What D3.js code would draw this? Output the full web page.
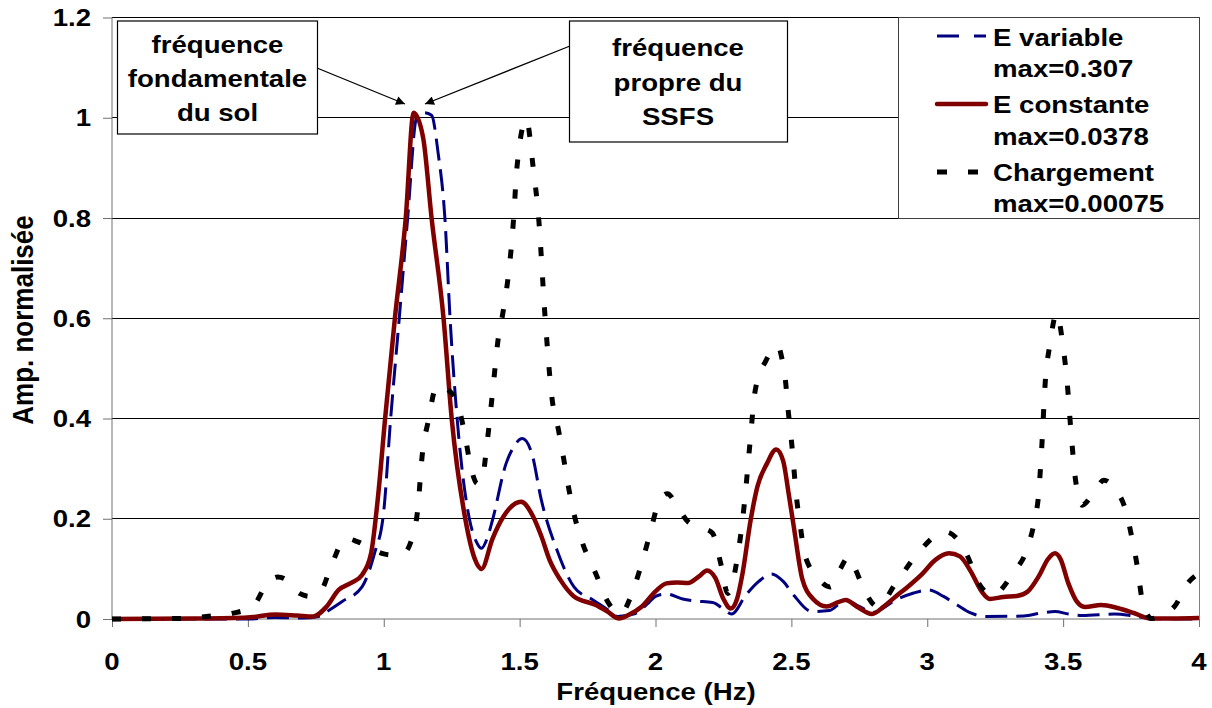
<!DOCTYPE html>
<html>
<head>
<meta charset="utf-8">
<script src="https://cdn.jsdelivr.net/npm/d3@7"></script>
<style>
  body { margin: 0; background: #fff; }
  text { font-family: "Liberation Sans", Arial, sans-serif; font-weight: bold; fill: #000; }
</style>
</head>
<body>
<div id="chart"></div>
<script>
// ---------------------------------------------------------------------------
// Data: [frequency Hz, normalised amplitude]

const freqTicks = [0, 0.5, 1, 1.5, 2, 2.5, 3, 3.5, 4];
const ampTicks = [0, 0.2, 0.4, 0.6, 0.8, 1, 1.2];

const eVariable = [
  [0, 0], [0.5, 0], [0.6, 0.003], [0.7, 0.002], [0.76, 0.005], [0.8, 0.018],
  [0.847, 0.035], [0.92, 0.064], [0.966, 0.131], [0.999, 0.21], [1.025, 0.397],
  [1.057, 0.6], [1.088, 0.8], [1.121, 1.0], [1.15, 1.01], [1.176, 1.005],
  [1.2, 0.93], [1.225, 0.8], [1.244, 0.6], [1.27, 0.4], [1.315, 0.2],
  [1.34, 0.155], [1.36, 0.141], [1.38, 0.16], [1.4, 0.197], [1.45, 0.31],
  [1.48, 0.345], [1.51, 0.36], [1.545, 0.33], [1.58, 0.237], [1.637, 0.138],
  [1.7, 0.064], [1.77, 0.038], [1.82, 0.02], [1.86, 0.005], [1.926, 0.011],
  [1.97, 0.03], [2.0, 0.045], [2.04, 0.05], [2.1, 0.04], [2.145, 0.036],
  [2.21, 0.033], [2.25, 0.02], [2.28, 0.01], [2.333, 0.048], [2.38, 0.075],
  [2.427, 0.09], [2.47, 0.075], [2.508, 0.048], [2.575, 0.015], [2.64, 0.017],
  [2.7, 0.038], [2.75, 0.025], [2.8, 0.013], [2.884, 0.038], [2.95, 0.052],
  [3.005, 0.058], [3.06, 0.045], [3.11, 0.028], [3.16, 0.012], [3.22, 0.005],
  [3.355, 0.006], [3.42, 0.012], [3.47, 0.015], [3.52, 0.01], [3.57, 0.007],
  [3.69, 0.01], [3.76, 0.006], [3.825, 0.001], [4.0, 0]
];

const eConstante = [
  [0, 0], [0.3, 0.001], [0.45, 0.002], [0.52, 0.004], [0.6, 0.009], [0.68, 0.007],
  [0.74, 0.005], [0.79, 0.025], [0.834, 0.058], [0.88, 0.072], [0.92, 0.088],
  [0.953, 0.13], [0.98, 0.25], [1.005, 0.4], [1.041, 0.6], [1.081, 0.8],
  [1.11, 1.01], [1.145, 0.96], [1.176, 0.8], [1.22, 0.6], [1.25, 0.4],
  [1.3, 0.2], [1.335, 0.12], [1.36, 0.1], [1.4, 0.16], [1.44, 0.204],
  [1.505, 0.234], [1.55, 0.204], [1.58, 0.165], [1.61, 0.118], [1.65, 0.078],
  [1.7, 0.045], [1.78, 0.028], [1.82, 0.016], [1.867, 0.001], [1.9, 0.008],
  [1.95, 0.025], [2.0, 0.055], [2.04, 0.071], [2.08, 0.073], [2.12, 0.072],
  [2.16, 0.085], [2.19, 0.097], [2.22, 0.082], [2.25, 0.04], [2.277, 0.021],
  [2.3, 0.04], [2.32, 0.09], [2.35, 0.197], [2.375, 0.264], [2.41, 0.31],
  [2.444, 0.338], [2.47, 0.315], [2.49, 0.25], [2.51, 0.18], [2.54, 0.08],
  [2.58, 0.04], [2.63, 0.025], [2.67, 0.033], [2.7, 0.038], [2.74, 0.025],
  [2.797, 0.01], [2.84, 0.025], [2.884, 0.045], [2.93, 0.065], [2.978, 0.088],
  [3.03, 0.118], [3.08, 0.131], [3.12, 0.125], [3.16, 0.095], [3.2, 0.055],
  [3.23, 0.04], [3.28, 0.044], [3.33, 0.046], [3.37, 0.055], [3.41, 0.085],
  [3.445, 0.12], [3.47, 0.131], [3.49, 0.12], [3.52, 0.07], [3.55, 0.035],
  [3.58, 0.024], [3.64, 0.028], [3.7, 0.022], [3.76, 0.012], [3.82, 0.001],
  [3.9, 0.001], [4.0, 0.002]
];

const chargement = [
  [0, 0], [0.25, 0.001], [0.347, 0.005], [0.44, 0.011], [0.518, 0.025],
  [0.571, 0.071], [0.61, 0.084], [0.65, 0.075], [0.69, 0.051], [0.73, 0.045],
  [0.768, 0.055], [0.808, 0.108], [0.86, 0.161], [0.9, 0.155], [0.953, 0.141],
  [1.0, 0.13], [1.03, 0.128], [1.07, 0.13], [1.1, 0.154], [1.124, 0.214],
  [1.143, 0.334], [1.163, 0.393], [1.196, 0.466], [1.23, 0.46], [1.275, 0.423],
  [1.3, 0.363], [1.32, 0.304], [1.345, 0.27], [1.36, 0.274], [1.38, 0.35],
  [1.4, 0.45], [1.424, 0.57], [1.435, 0.6], [1.478, 0.8], [1.49, 0.9],
  [1.525, 0.997], [1.55, 0.9], [1.57, 0.8], [1.594, 0.6], [1.62, 0.437],
  [1.643, 0.377], [1.663, 0.317], [1.682, 0.257], [1.7, 0.21], [1.728, 0.157],
  [1.78, 0.091], [1.828, 0.031], [1.87, 0.011], [1.926, 0.071], [1.953, 0.118],
  [1.98, 0.171], [2.01, 0.23], [2.044, 0.25], [2.08, 0.225], [2.12, 0.194],
  [2.145, 0.187], [2.18, 0.18], [2.21, 0.171], [2.24, 0.111], [2.266, 0.051],
  [2.3, 0.118], [2.327, 0.23], [2.347, 0.347], [2.367, 0.456], [2.407, 0.516],
  [2.435, 0.54], [2.45, 0.545], [2.465, 0.52], [2.478, 0.477], [2.488, 0.417],
  [2.5, 0.357], [2.52, 0.237], [2.535, 0.177], [2.548, 0.131], [2.595, 0.084],
  [2.643, 0.064], [2.68, 0.1], [2.71, 0.124], [2.735, 0.1], [2.763, 0.064],
  [2.817, 0.025], [2.884, 0.071], [2.965, 0.131], [3.066, 0.174], [3.11, 0.16],
  [3.146, 0.128], [3.19, 0.071], [3.24, 0.048], [3.315, 0.091], [3.37, 0.144],
  [3.395, 0.197], [3.41, 0.25], [3.42, 0.33], [3.436, 0.486], [3.45, 0.543],
  [3.476, 0.61], [3.5, 0.543], [3.513, 0.483], [3.53, 0.367], [3.545, 0.28],
  [3.556, 0.247], [3.57, 0.227], [3.61, 0.25], [3.65, 0.277], [3.69, 0.26],
  [3.73, 0.217], [3.755, 0.157], [3.775, 0.098], [3.79, 0.041], [3.825, 0.001],
  [3.87, 0.01], [3.91, 0.025], [3.958, 0.071], [4.0, 0.091]
];

const legendLabels = [
  ['E variable', 'max=0.307'],
  ['E constante', 'max=0.0378'],
  ['Chargement', 'max=0.00075']
];

// ---------------------------------------------------------------------------
// Layout

const width = 1212;
const height = 708;
const SX = 1.15; // the source picture is stretched horizontally

const svg = d3.select('#chart')
  .append('svg')
  .attr('width', width)
  .attr('height', height);

svg.append('rect').attr('width', width).attr('height', height).attr('fill', '#fff');

const x = d3.scaleLinear().domain([0, 4]).range([112, 1199]);
const y = d3.scaleLinear().domain([0, 1.2]).range([619, 17.5]);

function label(sel, tx, ty, txt, anchor, size) {
  return sel.append('text')
    .attr('transform', `translate(${tx},${ty}) scale(${SX},1)`)
    .attr('text-anchor', anchor)
    .attr('font-size', size)
    .text(txt);
}

// gridlines
svg.append('g')
  .selectAll('line')
  .data(ampTicks.filter(d => d > 0))
  .enter()
  .append('line')
  .attr('x1', x(0)).attr('x2', x(4))
  .attr('y1', d => y(d)).attr('y2', d => y(d))
  .attr('stroke', '#000')
  .attr('stroke-width', 1)
  .attr('shape-rendering', 'crispEdges');

// right border of plot area
svg.append('line')
  .attr('x1', x(4)).attr('x2', x(4))
  .attr('y1', y(1.2)).attr('y2', y(0))
  .attr('stroke', '#808080')
  .attr('shape-rendering', 'crispEdges');

// axes
const yAxis = d3.axisLeft(y).tickValues(ampTicks).tickSize(9).tickFormat('');
const xAxis = d3.axisBottom(x).tickValues(freqTicks).tickSize(8).tickFormat('');

svg.append('g').attr('transform', `translate(${x(0)},0)`).call(yAxis)
  .call(g => g.selectAll('path, line').attr('stroke', '#707070'))
  .call(g => g.select('.domain').attr('d', `M0,${y(1.2)}V${y(0)}`));
svg.append('g').attr('transform', `translate(0,${y(0)})`).call(xAxis)
  .call(g => g.selectAll('path, line').attr('stroke', '#707070'))
  .call(g => g.select('.domain').attr('d', `M${x(0)},0H${x(4)}`));

const yLabels = svg.append('g');
ampTicks.forEach(d => {
  label(yLabels, 91, y(d) + 8.6, d3.format('~g')(d), 'end', 24);
});
const xLabels = svg.append('g');
freqTicks.forEach(d => {
  label(xLabels, x(d), 669.6, d3.format('~g')(d), 'middle', 24);
});

label(svg, 656, 700, 'Fréquence (Hz)', 'middle', 24);
svg.append('text')
  .attr('transform', 'translate(33,320) rotate(-90) scale(1,1.12)')
  .attr('text-anchor', 'middle')
  .attr('font-size', 26)
  .text('Amp. normalisée');

// ---------------------------------------------------------------------------
// Series

const line = d3.line()
  .x(d => x(d[0]))
  .y(d => y(d[1]))
  .curve(d3.curveMonotoneX);

const plot = svg.append('g');

plot.append('path')
  .datum(eVariable)
  .attr('d', line)
  .attr('fill', 'none')
  .attr('stroke', '#000080')
  .attr('stroke-width', 3)
  .attr('stroke-dasharray', '22,9');

plot.append('path')
  .datum(eConstante)
  .attr('d', line)
  .attr('fill', 'none')
  .attr('stroke', '#800000')
  .attr('stroke-width', 4.5)
  .attr('stroke-linejoin', 'round');

plot.append('path')
  .datum(chargement)
  .attr('d', line)
  .attr('fill', 'none')
  .attr('stroke', '#000')
  .attr('stroke-width', 5)
  .attr('stroke-dasharray', '9,21');

// ---------------------------------------------------------------------------
// Annotations

svg.append('defs').append('marker')
  .attr('id', 'arrow')
  .attr('viewBox', '0 0 10 10')
  .attr('refX', 10).attr('refY', 5)
  .attr('markerWidth', 11).attr('markerHeight', 9)
  .attr('markerUnits', 'userSpaceOnUse')
  .attr('orient', 'auto')
  .append('path')
  .attr('d', 'M0,0L10,5L0,10Z')
  .attr('fill', '#000');

const ann = svg.append('g');

ann.append('line')
  .attr('x1', 317).attr('y1', 68).attr('x2', 405).attr('y2', 104)
  .attr('stroke', '#000').attr('stroke-width', 1.3)
  .attr('marker-end', 'url(#arrow)');
ann.append('line')
  .attr('x1', 570).attr('y1', 46).attr('x2', 425).attr('y2', 104)
  .attr('stroke', '#000').attr('stroke-width', 1.3)
  .attr('marker-end', 'url(#arrow)');

ann.append('rect')
  .attr('x', 117.5).attr('y', 21).attr('width', 200).attr('height', 113)
  .attr('fill', '#fff').attr('stroke', '#000').attr('stroke-width', 1.2);
[['fréquence', 53], ['fondamentale', 87], ['du sol', 121]].forEach(t => {
  label(ann, 217.5, t[1], t[0], 'middle', 24);
});

ann.append('rect')
  .attr('x', 569.5).attr('y', 21).attr('width', 218).attr('height', 121)
  .attr('fill', '#fff').attr('stroke', '#000').attr('stroke-width', 1.2);
[['fréquence', 56], ['propre du', 91], ['SSFS', 125]].forEach(t => {
  label(ann, 678, t[1], t[0], 'middle', 24);
});

// ---------------------------------------------------------------------------
// Legend

const legend = svg.append('g');
legend.append('rect')
  .attr('x', 898.5).attr('y', 17.5).attr('width', 301).attr('height', 201)
  .attr('fill', '#fff').attr('stroke', '#404040').attr('stroke-width', 1);

const legendStyles = [
  { stroke: '#000080', width: 3, dash: '22,15', y: 36 },
  { stroke: '#800000', width: 4.5, dash: null, y: 104 },
  { stroke: '#000', width: 5, dash: '10,21', y: 172 }
];
const textRows = [[46, 77], [113, 145], [181, 212]];

legendStyles.forEach((s, i) => {
  legend.append('line')
    .attr('x1', 937).attr('x2', 986)
    .attr('y1', s.y).attr('y2', s.y)
    .attr('stroke', s.stroke)
    .attr('stroke-width', s.width)
    .attr('stroke-linecap', s.dash ? 'butt' : 'round')
    .attr('stroke-dasharray', s.dash);
  label(legend, 993, textRows[i][0], legendLabels[i][0], 'start', 24);
  label(legend, 993, textRows[i][1], legendLabels[i][1], 'start', 24);
});
</script>
</body>
</html>
